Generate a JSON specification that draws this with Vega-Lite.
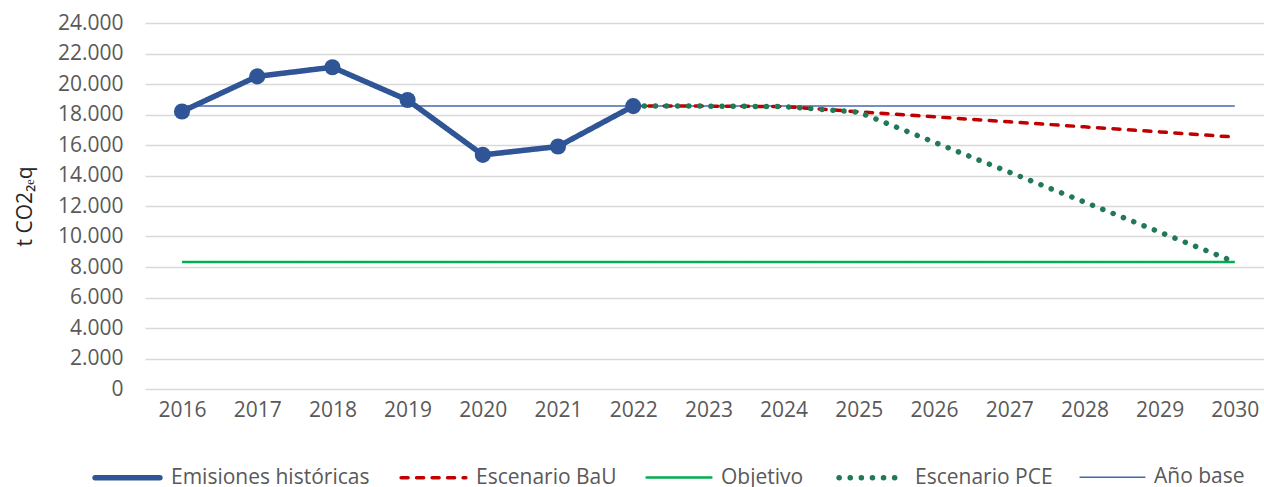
{
  "$schema": "https://vega.github.io/schema/vega-lite/v6.json",
  "autosize": {"type": "none"},
  "padding": {"left": 145, "top": 23, "right": 0, "bottom": 98},
  "width": 1119,
  "height": 366,
  "background": "white",
  "config": {
    "view": {"stroke": null},
    "font": "Open Sans",
    "axis": {"labelFont": "Open Sans", "labelColor": "#595959", "labelFontSize": 21, "titleFont": "Open Sans", "titleColor": "#262626", "titleFontWeight": "normal"},
    "legend": {"labelFont": "Open Sans", "labelColor": "#595959", "labelFontSize": 21, "labelLimit": 0}
  },
  "data": {
    "values": [
      {"year": 2016, "serie": "Emisiones históricas", "value": 18200},
      {"year": 2017, "serie": "Emisiones históricas", "value": 20500},
      {"year": 2018, "serie": "Emisiones históricas", "value": 21100},
      {"year": 2019, "serie": "Emisiones históricas", "value": 18950},
      {"year": 2020, "serie": "Emisiones históricas", "value": 15350},
      {"year": 2021, "serie": "Emisiones históricas", "value": 15900},
      {"year": 2022, "serie": "Emisiones históricas", "value": 18550},
      {"year": 2022, "serie": "Escenario BaU", "value": 18550},
      {"year": 2023, "serie": "Escenario BaU", "value": 18550},
      {"year": 2024, "serie": "Escenario BaU", "value": 18520},
      {"year": 2025, "serie": "Escenario BaU", "value": 18180},
      {"year": 2026, "serie": "Escenario BaU", "value": 17850},
      {"year": 2027, "serie": "Escenario BaU", "value": 17520},
      {"year": 2028, "serie": "Escenario BaU", "value": 17190},
      {"year": 2029, "serie": "Escenario BaU", "value": 16860},
      {"year": 2030, "serie": "Escenario BaU", "value": 16520},
      {"year": 2022, "serie": "Escenario PCE", "value": 18550},
      {"year": 2023, "serie": "Escenario PCE", "value": 18550},
      {"year": 2024, "serie": "Escenario PCE", "value": 18520},
      {"year": 2025, "serie": "Escenario PCE", "value": 18150},
      {"year": 2026, "serie": "Escenario PCE", "value": 16190},
      {"year": 2027, "serie": "Escenario PCE", "value": 14220},
      {"year": 2028, "serie": "Escenario PCE", "value": 12260},
      {"year": 2029, "serie": "Escenario PCE", "value": 10290},
      {"year": 2030, "serie": "Escenario PCE", "value": 8330},
      {"year": 2016, "serie": "Objetivo", "value": 8330},
      {"year": 2030, "serie": "Objetivo", "value": 8330},
      {"year": 2016, "serie": "Año base", "value": 18550},
      {"year": 2030, "serie": "Año base", "value": 18550}
    ]
  },
  "encoding": {
    "x": {
      "field": "year", "type": "quantitative",
      "scale": {"domain": [2015.508, 2030.388], "nice": false, "zero": false},
      "axis": {"title": null, "values": [2016,2017,2018,2019,2020,2021,2022,2023,2024,2025,2026,2027,2028,2029,2030], "format": "d", "labelAngle": 0, "ticks": false, "domain": false, "grid": false, "labelPadding": 10, "labelFlush": false, "labelOverlap": false}
    },
    "y": {
      "field": "value", "type": "quantitative",
      "scale": {"domain": [0, 24000], "nice": false},
      "axis": {"title": "t CO2₂ₑq", "titleFontSize": 21, "titlePadding": 22, "values": [0,2000,4000,6000,8000,10000,12000,14000,16000,18000,20000,22000,24000], "ticks": false, "domain": false, "labelPadding": 22, "labelOverlap": false, "gridColor": "#d9d9d9", "gridWidth": 1.5, "labelExpr": "replace(format(datum.value, ',d'), ',', '.')"}
    },
    "color": {
      "field": "serie", "type": "nominal",
      "scale": {"domain": ["Emisiones históricas", "Escenario BaU", "Objetivo", "Escenario PCE", "Año base"], "range": ["#2F5597", "#C00000", "#00B050", "#217A55", "#4468B0"]},
      "legend": {"title": null, "orient": "none", "direction": "horizontal", "legendX": -53, "legendY": 419, "symbolType": "stroke", "symbolSize": 4200, "labelOffset": 8, "columnPadding": 24, "encode": {"symbols": {"update": {"strokeCap": {"value": "round"}}}}}
    },
    "strokeDash": {
      "field": "serie", "type": "nominal",
      "scale": {"domain": ["Emisiones históricas", "Escenario BaU", "Objetivo", "Escenario PCE", "Año base"], "range": [[1,0], [7,8.5], [1,0], [0.1,11], [1,0]]},
      "legend": {"title": null}
    },
    "strokeWidth": {
      "field": "serie", "type": "nominal",
      "scale": {"type": "ordinal", "domain": ["Emisiones históricas", "Escenario BaU", "Objetivo", "Escenario PCE", "Año base"], "range": [5.5, 3.5, 2.5, 5.5, 1.5]},
      "legend": {"title": null}
    }
  },
  "layer": [
    {"transform": [{"filter": "datum.serie === 'Objetivo'"}], "mark": {"type": "line"}},
    {"transform": [{"filter": "datum.serie === 'Año base'"}], "mark": {"type": "line"}},
    {"transform": [{"filter": "datum.serie === 'Escenario BaU'"}], "mark": {"type": "line", "strokeCap": "round"}},
    {"transform": [{"filter": "datum.serie === 'Escenario PCE'"}], "mark": {"type": "line", "strokeCap": "round"}},
    {"transform": [{"filter": "datum.serie === 'Emisiones históricas'"}], "mark": {"type": "line", "strokeCap": "round", "strokeJoin": "round"}},
    {"transform": [{"filter": "datum.serie === 'Emisiones históricas'"}], "mark": {"type": "point", "filled": true, "opacity": 1, "size": 260, "color": "#2F5597"}, "encoding": {"strokeDash": null, "strokeWidth": null, "color": null}}
  ]
}
